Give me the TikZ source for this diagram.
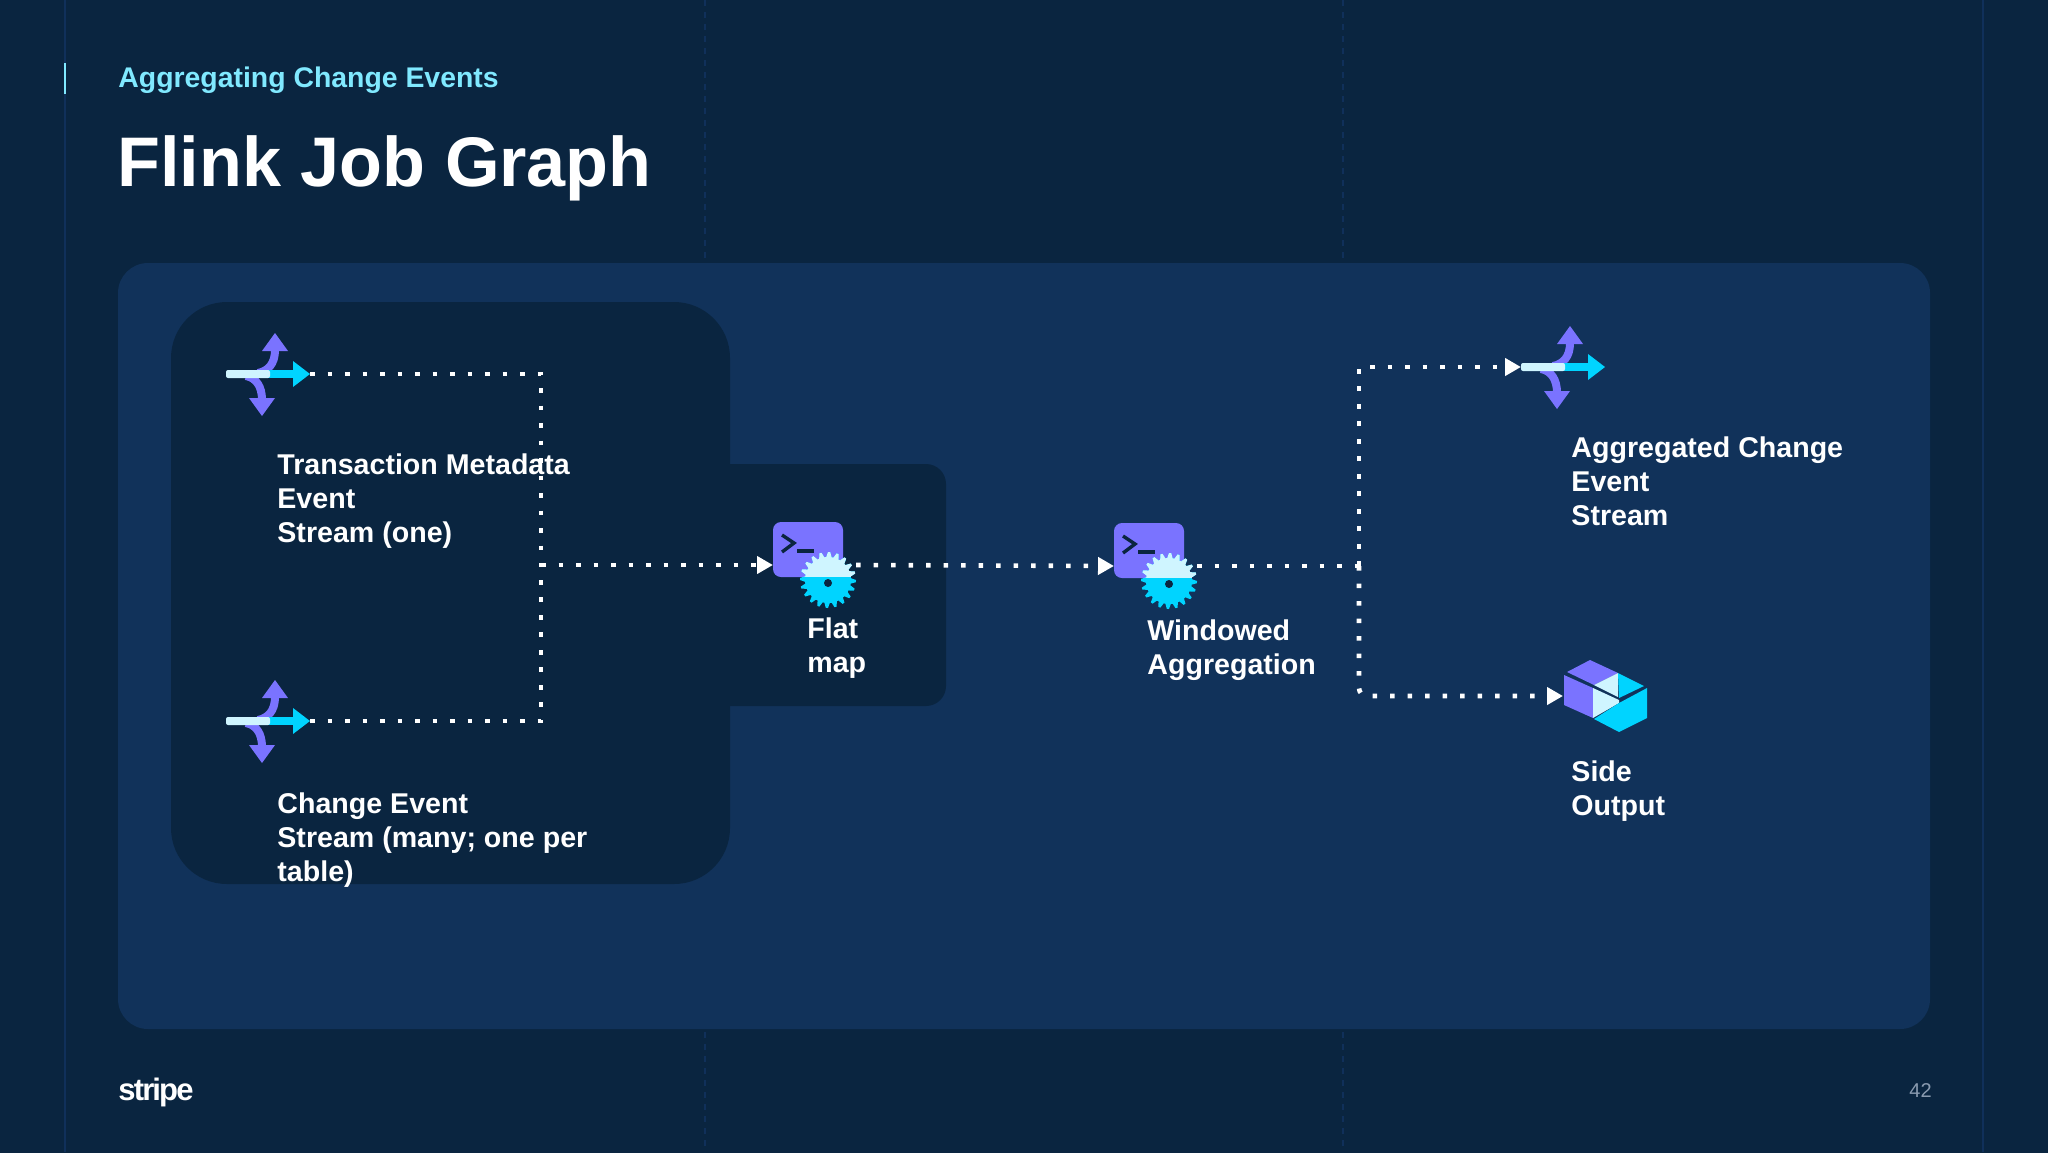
\documentclass[tikz,border=0pt]{standalone}
\usepackage{fontspec}
\setmainfont{Liberation Sans}
\usetikzlibrary{arrows.meta}
\definecolor{bgc}{HTML}{0A2540}
\definecolor{panelc}{HTML}{11325A}
\definecolor{gridc}{HTML}{10305A}
\definecolor{purplec}{HTML}{7A73FF}
\definecolor{cyanc}{HTML}{00D4FF}
\definecolor{lightc}{HTML}{CFF5FF}
\definecolor{subc}{HTML}{80E9FF}
\definecolor{pagec}{HTML}{8A9BB0}
\tikzset{
  label/.style={text=white,font=\fontsize{14.3}{17}\selectfont\bfseries,align=left,anchor=north west,inner sep=0pt},
  dotline/.style={white,line width=2.3pt,dash pattern=on 2.3pt off 6.45pt},
  dotarrow/.style={dotline,-{Triangle[length=8pt,width=8.5pt,fill=white]}},
  anchorbox/.style={inner sep=0pt,minimum size=0pt,outer sep=0pt},
  switchicon/.pic={
    \draw[purplec,line width=4pt] (32,-1) .. controls (42,-3) and (49,-10) .. (49,-24);
    \fill[purplec] (36,-23) -- (49,-41) -- (62,-23) -- cycle;
    \draw[purplec,line width=4pt] (20,2) .. controls (30,4) and (36,12) .. (36,26);
    \fill[purplec] (23,24) -- (36,42) -- (49,24) -- cycle;
    \fill[cyanc] (38,-4) rectangle (68,4);
    \fill[cyanc] (67,-13) -- (84,0) -- (67,13) -- cycle;
    \fill[lightc,rounded corners=1pt] (0,-4) rectangle (44,4);
  },
}
\newcommand{\gearicon}[2]{%
  \begin{scope}[shift={(#1,#2)}]
    \fill[cyanc] plot[samples at={0,...,79}] ({\x*4.5}:{mod(\x,4)<2?28:23}) -- cycle;
    \begin{scope}
      \clip (-40,-40) rectangle (40,-4);
      \fill[lightc] plot[samples at={0,...,79}] ({\x*4.5}:{mod(\x,4)<2?28:23}) -- cycle;
    \end{scope}
    \fill[bgc] (0,3) circle (4);
  \end{scope}}
\begin{document}
\begin{tikzpicture}[x=0.5pt,y=-0.5pt]
\useasboundingbox (0,0) rectangle (2048,1152);
\fill[bgc] (-5,-5) rectangle (2053,1160);
% grid lines
\draw[gridc,line width=1pt] (65,0) -- (65,1152);
\draw[gridc,line width=1pt] (1983,0) -- (1983,1152);
\draw[gridc,line width=0.6pt,dashed] (705,0) -- (705,1152);
\draw[gridc,line width=0.6pt,dashed] (1343,0) -- (1343,1152);
\fill[subc] (64,63) rectangle (66,94);
% panels
\fill[panelc,rounded corners=15pt] (118,263) rectangle (1930,1029);
\fill[bgc,rounded corners=28pt] (171,302) rectangle (730,884);
\fill[bgc,rounded corners=10pt] (600,464) rectangle (946,706);
% header
\node[anchor=base west,inner sep=0pt,text=subc,font=\fontsize{14.2}{17}\selectfont\bfseries] (subtitle) at (118,87) {Aggregating Change Events};
\node[anchor=base west,inner sep=0pt,text=white,font=\fontsize{35.1}{40}\selectfont\bfseries] (title) at (117,186) {Flink Job Graph};
\node[anchor=base west,inner sep=0pt,text=white,font=\fontsize{15.5}{17}\selectfont\bfseries] (logo) at (118,1100) {\addfontfeature{LetterSpace=-6}stripe};
\node[anchor=base east,inner sep=0pt,text=pagec,font=\fontsize{10}{12}\selectfont] (page) at (1932,1097) {42};
% anchor points
\node[anchor=center,anchorbox] (srcA) at (310,374) {};
\node[anchor=center,anchorbox] (srcB) at (310,721) {};
\node[anchor=center,anchorbox] (joinA) at (541,565) {};
\node[anchor=center,anchorbox] (flatL) at (773,565) {};
\node[anchor=center,anchorbox] (flatR) at (856,565) {};
\node[anchor=center,anchorbox] (winL) at (1114,566) {};
\node[anchor=center,anchorbox] (winR) at (1197,566) {};
\node[anchor=center,anchorbox] (joinB) at (1359,566) {};
\node[anchor=center,anchorbox] (outA) at (1521,367) {};
\node[anchor=center,anchorbox] (outB) at (1563,696) {};
% connectors
\draw[dotline] (srcA) -| (joinA);
\draw[dotline] (srcB) -| (joinA);
\draw[dotarrow] (joinA) -- (flatL);
\draw[dotarrow] (flatR) -- (winL);
\draw[dotline] (winR) -- (joinB);
\draw[dotarrow] (joinB) |- (outA);
\draw[dotarrow,rounded corners=4pt] (joinB) |- (outB);
% icons
\pic at (226,374) {switchicon};
\pic at (226,721) {switchicon};
\pic at (1521,367) {switchicon};
\fill[purplec,rounded corners=4pt] (773,522) rectangle (843,577);
\draw[bgc,line width=1.7pt] (782,535) -- (794,543) -- (782,552);
\fill[bgc] (797,549) rectangle (814,553);
\gearicon{828}{580}
\fill[purplec,rounded corners=4pt] (1114,523) rectangle (1184,578);
\draw[bgc,line width=1.7pt] (1123,536) -- (1135,544) -- (1123,553);
\fill[bgc] (1138,550) rectangle (1155,554);
\gearicon{1169}{581}
% cube
\fill[purplec] (1567,672) -- (1590,660) -- (1618,673) -- (1594,685) -- cycle;
\fill[purplec] (1564,675) -- (1593,688) -- (1593,718) -- (1564,705) -- cycle;
\fill[lightc] (1594,685) -- (1618,673) -- (1618,697) -- cycle;
\fill[lightc] (1593,688) -- (1619,700) -- (1619,703) -- (1593,718) -- cycle;
\fill[cyanc] (1618,673) -- (1644,686) -- (1619,698) -- cycle;
\fill[cyanc] (1647,688) -- (1647,718) -- (1619,732) -- (1594,719) -- (1619,703) -- cycle;
% labels
\node[label] (lblA) at (277,453) {Transaction Metadata\\Event\\Stream (one)};
\node[label] (lblB) at (277,792) {Change Event\\Stream (many; one per\\table)};
\node[label] (lblC) at (807,617) {Flat\\map};
\node[label] (lblD) at (1147,619) {Windowed\\Aggregation};
\node[label] (lblE) at (1571,436) {Aggregated Change\\Event\\Stream};
\node[label] (lblF) at (1571,760) {Side\\Output};
\end{tikzpicture}
\end{document}
